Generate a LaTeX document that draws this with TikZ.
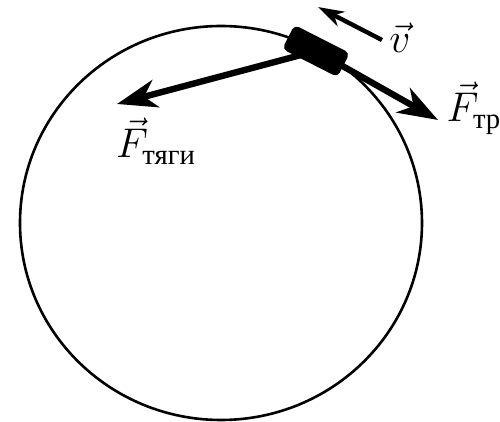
\documentclass[tikz,border=0pt]{standalone}
\usepackage{amsmath}
\usepackage{fontspec}
\setmainfont{Liberation Serif}
\usetikzlibrary{arrows.meta}
\pgfdeclarelayer{bg}
\pgfsetlayers{bg,main}
\begin{document}
\begin{tikzpicture}[x=0.5pt,y=-0.5pt,
  force/.style={line width=3.2pt,-{Stealth[length=20pt,width=14pt,inset=6pt]}},
  vel/.style={line width=2.2pt,-{Stealth[length=13pt,width=8pt,inset=4pt]}},
  lbl/.style={inner sep=0pt,font=\fontsize{20.5}{24}\selectfont},
  blockbox/.style={fill=black,rounded corners=2.5pt,minimum width=31pt,minimum height=13.5pt,inner sep=0pt}]
\useasboundingbox (0,0) rectangle (500,422);
\draw[line width=1.3pt] (221,223) ellipse [x radius=100.5pt, y radius=98.5pt];
\node[blockbox,rotate=-27] (blk) at (316,51) {};
\coordinate (tt) at (117,104);
\coordinate (tr) at (438,120);
\coordinate (vs) at (382,40);
\coordinate (ve) at (318,7);
\begin{pgfonlayer}{bg}
\draw[force] (blk.center) -- (tt);
\draw[force] (blk.center) -- (tr);
\end{pgfonlayer}
\draw[vel] (vs) -- (ve);
\node[lbl] (lv) at (400,38) {$\vec{v}$};
\node[lbl] (ltr) at (474,108) {$\vec{F}_{\text{тр}}$};
\node[lbl] (ltt) at (156,141) {$\vec{F}_{\text{тяги}}$};
\end{tikzpicture}
\end{document}
